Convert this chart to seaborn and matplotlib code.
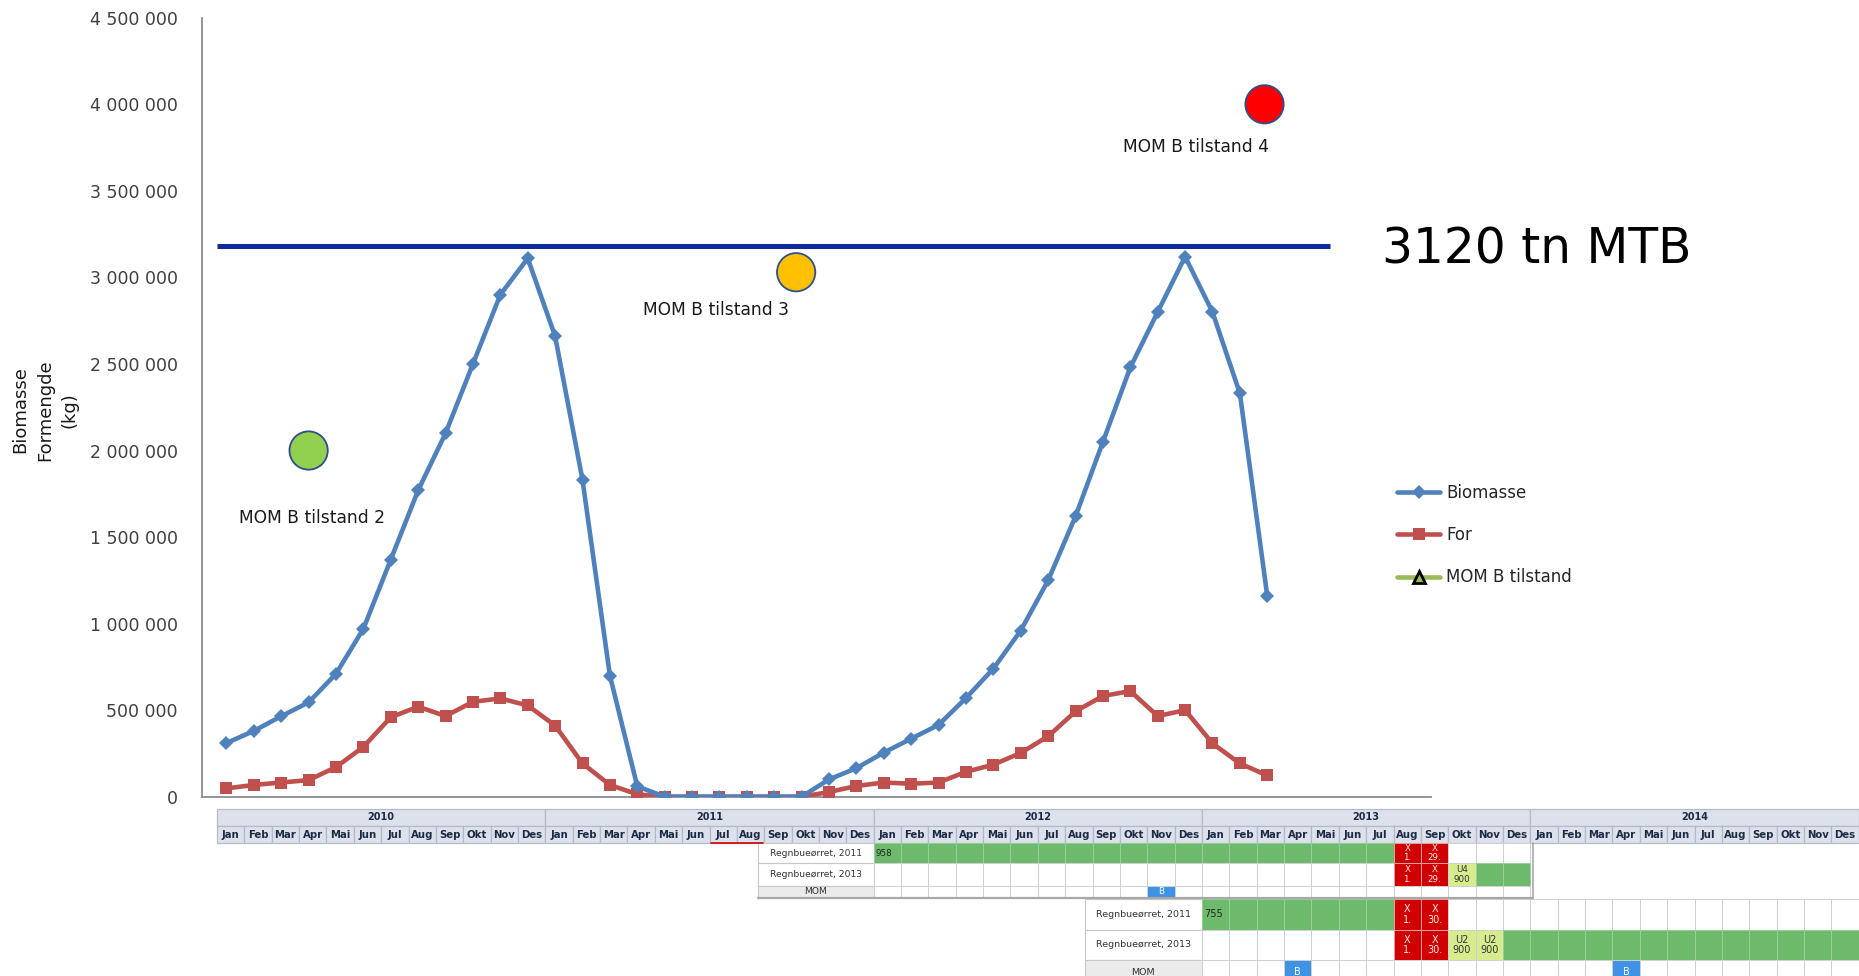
import numpy as np
import pandas as pd
import matplotlib
matplotlib.use("Agg")
import matplotlib.pyplot as plt
import seaborn as sns
from matplotlib.lines import Line2D
from matplotlib.patches import Rectangle

# ---------------- data ----------------
MONTHS = ['Jan', 'Feb', 'Mar', 'Apr', 'Mai', 'Jun', 'Jul', 'Aug', 'Sep', 'Okt', 'Nov', 'Des']
YEARS = [2010, 2011, 2012, 2013, 2014]

BIOMASSE = [310000, 380000, 465000, 545000, 710000, 970000, 1370000, 1770000, 2100000, 2500000, 2900000, 3110000,
            2660000, 1830000, 700000, 60000, 0, 0, 0, 0, 0, 0, 100000, 165000,
            255000, 335000, 415000, 570000, 740000, 960000, 1250000, 1620000, 2050000, 2480000, 2800000, 3120000,
            2800000, 2330000, 1160000]
FOR = [48000, 68000, 82000, 96000, 171000, 288000, 459000, 520000, 466000, 548000, 568000, 527000,
       411000, 192000, 68000, 14000, 0, 0, 0, 0, 0, 0, 27000, 62000,
       82000, 75000, 82000, 144000, 185000, 253000, 349000, 493000, 582000, 610000, 466000, 500000,
       308000, 192000, 123000]

MTB_LIMIT = 3180000
MTB_LABEL = "3120 tn MTB"

MOM_X = [3.0, 20.8, 37.9]
MOM_Y = [2000000, 3030000, 4000000]
MOM_COLORS = ['#92D050', '#FFC000', '#FF0000']
MOM_LABELS = ['MOM B tilstand 2', 'MOM B tilstand 3', 'MOM B tilstand 4']
MOM_LABEL_OFFSETS = [(2.6, -48.5), (-58.0, -27.0), (-49.5, -31.0)]

YTICKS = [0, 500000, 1000000, 1500000, 2000000, 2500000, 3000000, 3500000, 4000000, 4500000]
YTICK_LABELS = ['0', '500 000', '1 000 000', '1 500 000', '2 000 000', '2 500 000',
                '3 000 000', '3 500 000', '4 000 000', '4 500 000']

# Gantt tables (codes: G green, R red, L light green, W white, B blue)
T1_START = 24  # Jan 2012
T1_LABELS = ['Regnbueørret, 2011', 'Regnbueørret, 2013', 'MOM']
T1_ROWS = [['G'] * 19 + ['R', 'R'] + ['W'] * 3,
           ['W'] * 19 + ['R', 'R', 'L', 'G', 'G'],
           ['W'] * 10 + ['B'] + ['W'] * 13]
T1_TEXTS = [{0: '958', 19: 'X\n1.', 20: 'X\n29.'},
            {19: 'X\n1.', 20: 'X\n29.', 21: 'U4\n900'},
            {10: 'B'}]

T2_START = 36  # Jan 2013
T2_LABELS = ['Regnbueørret, 2011', 'Regnbueørret, 2013', 'MOM']
T2_ROWS = [['G'] * 7 + ['R', 'R'] + ['W'] * 15,
           ['W'] * 7 + ['R', 'R', 'L', 'L'] + ['G'] * 13,
           ['W'] * 3 + ['B'] + ['W'] * 11 + ['B'] + ['W'] * 8]
T2_TEXTS = [{0: '755', 7: 'X\n1.', 8: 'X\n30.'},
            {7: 'X\n1.', 8: 'X\n30.', 9: 'U2\n900', 10: 'U2\n900'},
            {3: 'B', 15: 'B'}]

# ---------------- styling ----------------
sns.set_style("white")
plt.rcParams['font.family'] = ['DejaVu Sans']

BLUE = '#4F81BD'
RED = '#C0504D'
GREEN = '#9BBB59'

fig = plt.figure(figsize=(18.59, 9.76), dpi=100)
ax = fig.add_axes([0.1084, 0.1837, 0.7698 - 0.1084, 0.9818 - 0.1837])

idx = np.arange(len(BIOMASSE))
df = pd.DataFrame({'idx': np.concatenate([idx, idx]),
                   'value': BIOMASSE + FOR,
                   'serie': ['Biomasse'] * len(BIOMASSE) + ['For'] * len(FOR)})

sns.lineplot(data=df[df.serie == 'For'], x='idx', y='value', color=RED, lw=3.3,
             marker='s', markersize=9, markeredgewidth=0, ax=ax, legend=False, zorder=3)
sns.lineplot(data=df[df.serie == 'Biomasse'], x='idx', y='value', color=BLUE, lw=3.3,
             marker='D', markersize=7, markeredgewidth=0, ax=ax, legend=False, zorder=4)

ax.hlines(MTB_LIMIT, -0.35, 40.3, color='#0D2A9C', lw=3.6, zorder=5, clip_on=False)

mom_df = pd.DataFrame({'x': MOM_X, 'y': MOM_Y, 'c': MOM_LABELS})
sns.scatterplot(data=mom_df, x='x', y='y', hue='c', palette=dict(zip(MOM_LABELS, MOM_COLORS)),
                s=760, edgecolor='#2E4E8E', linewidth=1.3, ax=ax, legend=False, zorder=6, clip_on=False)
for x, y, lab, off in zip(MOM_X, MOM_Y, MOM_LABELS, MOM_LABEL_OFFSETS):
    ax.annotate(lab, (x, y), xytext=off, textcoords='offset points', ha='center', va='center',
                fontsize=12.3, color='#1a1a1a')

ax.set_xlim(-0.91, 43.98)
ax.set_ylim(0, 4500000)
ax.set_yticks(YTICKS)
ax.set_yticklabels(YTICK_LABELS)
ax.set_xticks([])
ax.tick_params(axis='y', length=0, pad=17, labelsize=12.5, labelcolor='#404040')
ax.set_xlabel('')
ax.set_ylabel('')
for s in ['top', 'right']:
    ax.spines[s].set_visible(False)
for s in ['left', 'bottom']:
    ax.spines[s].set_color('#8C8C8C')
    ax.spines[s].set_linewidth(1.3)

fig.text(45 / 1859, 1 - 410 / 976, 'Biomasse\nFormengde\n(kg)', rotation=90, ha='center', va='center',
         fontsize=13, color='#1a1a1a', linespacing=1.45, multialignment='center')

fig.text(0.8268, 1 - 249 / 976, MTB_LABEL, ha='center', va='center', fontsize=35, color='black')

handles = [Line2D([], [], color=BLUE, lw=3.3, marker='D', ms=7, mew=0),
           Line2D([], [], color=RED, lw=3.3, marker='s', ms=9, mew=0),
           Line2D([], [], color=GREEN, lw=3.3, marker='^', ms=9, mfc=GREEN, mec='black', mew=2)]
fig.legend(handles, ['Biomasse', 'For', 'MOM B tilstand'], loc='upper left',
           bbox_to_anchor=(0.7514, 0.504), frameon=False, fontsize=12, handlelength=2.6,
           handletextpad=0.35, labelspacing=1.45, borderpad=0, borderaxespad=0)

# ---------------- tables ----------------
H = 976 / 1.1856
tax = fig.add_axes([0, 0, 1, (H - 678) / H])
tax.set_xlim(-183 / 23.08, (1568 - 183) / 23.08)
tax.set_ylim(H, 678)
tax.axis('off')

HDR_FC = '#DDE1EC'
HDR_EC = '#B4BAC8'
HDR_TXT = '#1c2b45'
for yi, yr in enumerate(YEARS):
    tax.add_patch(Rectangle((12 * yi, 682), 12, 14.5, fc=HDR_FC, ec=HDR_EC, lw=0.9))
    tax.text(12 * yi + 6, 689.5, str(yr), ha='center', va='center', fontsize=7, fontweight='bold', color=HDR_TXT)
for m in range(12 * len(YEARS)):
    tax.add_patch(Rectangle((m, 696.5), 1, 14.5, fc=HDR_FC, ec=HDR_EC, lw=0.9))
    tax.text(m + 0.5, 704, MONTHS[m % 12], ha='center', va='center', fontsize=7.3, fontweight='bold', color=HDR_TXT)
tax.plot([18.05, 19.95], [711.3, 711.3], color='#D00000', lw=1.2)

CELL_FC = {'G': '#6DBA6D', 'R': '#D00000', 'L': '#D7EC8F', 'W': 'white', 'B': '#3F93E6'}
CELL_EC = {'G': '#97CF97', 'R': '#E8A0A0', 'L': '#D0D0D0', 'W': '#D0D0D0', 'B': '#D0D0D0'}
TXT_C = {'G': '#222222', 'R': '#FBECEC', 'L': '#333333', 'W': '#222222', 'B': 'white'}


def draw_gantt(start, label_left, row_bounds, labels, rows, texts, fs_lab, fs_cell):
    for r, (lab, row, txt) in enumerate(zip(labels, rows, texts)):
        y0, y1 = row_bounds[r], row_bounds[r + 1]
        is_mom = lab == 'MOM'
        tax.add_patch(Rectangle((label_left, y0), start - label_left, y1 - y0,
                                fc='#EBEBEB' if is_mom else 'white', ec='#C8C8C8', lw=0.8))
        tax.text((label_left + start) / 2, (y0 + y1) / 2, lab, ha='center', va='center',
                 fontsize=fs_lab, color='#333333')
        for k, code in enumerate(row):
            tax.add_patch(Rectangle((start + k, y0), 1, y1 - y0, fc=CELL_FC[code], ec=CELL_EC[code], lw=0.7))
            if k in txt:
                t = txt[k]
                if code == 'G':
                    tax.text(start + k + 0.08, (y0 + y1) / 2, t, ha='left', va='center', fontsize=fs_cell,
                             color=TXT_C[code])
                else:
                    tax.text(start + k + 0.5, (y0 + y1) / 2, t, ha='center', va='center', fontsize=fs_cell,
                             color=TXT_C[code], linespacing=1.05)
    return row_bounds[-1]


draw_gantt(T1_START, (639 - 183) / 23.08, [711, 728, 747, 757], T1_LABELS, T1_ROWS, T1_TEXTS, 6.6, 6.3)
tax.plot([(639 - 183) / 23.08, 48.1], [757.8, 757.8], color='#A8A8A8', lw=1.6)
tax.plot([48.1, 48.1], [711, 757.8], color='#A8A8A8', lw=1.2)
draw_gantt(T2_START, (915 - 183) / 23.08, [758.5, 784, 810, 830], T2_LABELS, T2_ROWS, T2_TEXTS, 6.8, 7.0)

fig.savefig('out.png', dpi=100)
